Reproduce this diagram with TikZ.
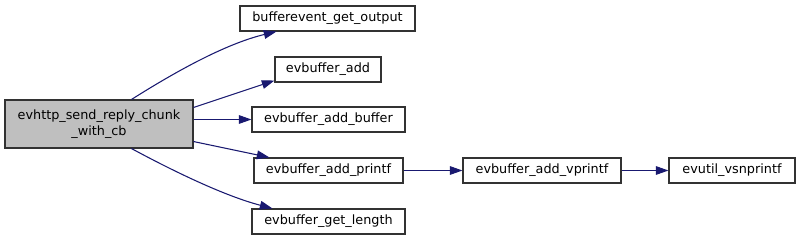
\documentclass[tikz,border=0pt]{standalone}
\usepackage{fontspec}
\setmainfont{DejaVu Sans}
\usetikzlibrary{calc,arrows.meta}
\definecolor{edgecol}{RGB}{25,25,112}
\definecolor{boxborder}{RGB}{50,50,50}
\definecolor{mainfill}{RGB}{191,191,191}
\begin{document}
\begin{tikzpicture}[x=0.75pt,y=-0.75pt,
  fn/.style={draw=boxborder,line width=0.8pt,fill=white,inner sep=0pt,minimum height=25*0.75pt,font=\fontsize{9.6pt}{11.5pt}\selectfont,anchor=center},
  mainfn/.style={fn,fill=mainfill,align=center,minimum height=48*0.75pt,minimum width=188*0.75pt},
  edge/.style={draw=edgecol,line width=0.8pt,-{Triangle[length=9.5pt,width=6.5pt]}}]
\useasboundingbox (0,0) rectangle (799,240);
\node[mainfn] (main) at (99,124) {evhttp\_send\_reply\_chunk\\\_with\_cb};
\node[fn,minimum width=175*0.75pt] (bevout) at (327.5,18.5) {bufferevent\_get\_output};
\node[fn,minimum width=106*0.75pt] (evadd) at (328,69.5) {evbuffer\_add};
\node[fn,minimum width=153*0.75pt] (addbuf) at (328.5,119.5) {evbuffer\_add\_buffer};
\node[fn,minimum width=149*0.75pt] (printf) at (328.5,170.5) {evbuffer\_add\_printf};
\node[fn,minimum width=153*0.75pt] (getlen) at (328.5,221.5) {evbuffer\_get\_length};
\node[fn,minimum width=158*0.75pt] (vprintf) at (542,170.5) {evbuffer\_add\_vprintf};
\node[fn,minimum width=126*0.75pt] (vsn) at (732,170.5) {evutil\_vsnprintf};
\draw[edge] ($(main.north west)+(127,0)$) .. controls (175,72) and (225,44) .. ($(bevout.south west)+(37,0)$);
\draw[edge] ($(main.north east)+(0,8)$) -- ($(evadd.south west)+(0,-2)$);
\draw[edge] (main.east |- addbuf.west) -- (addbuf.west);
\draw[edge] ($(main.south east)+(0,-7)$) -- ($(printf.north west)+(16,0)$);
\draw[edge] ($(main.south west)+(127,0)$) .. controls (175,172) and (225,196) .. ($(getlen.north west)+(21,0)$);
\draw[edge] (printf) -- (vprintf);
\draw[edge] (vprintf) -- (vsn);
\end{tikzpicture}
\end{document}
